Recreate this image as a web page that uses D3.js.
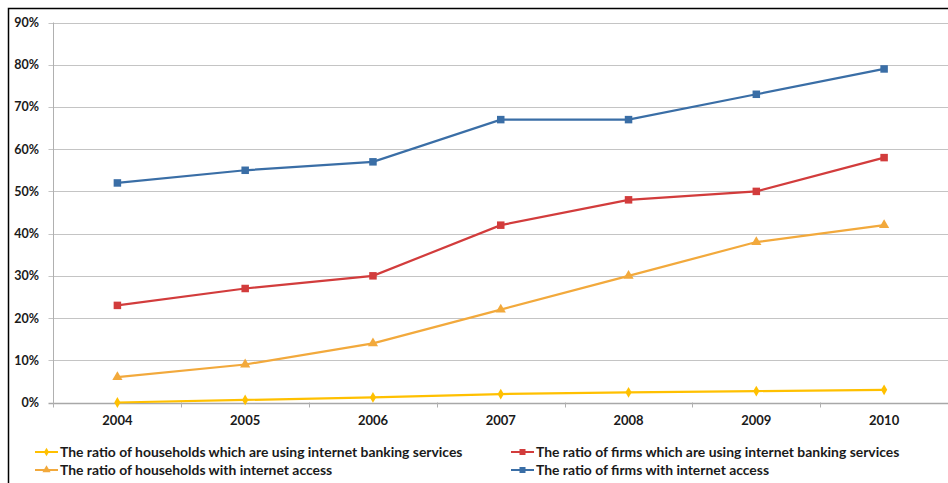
<!DOCTYPE html>
<html><head><meta charset="utf-8">
<script src="https://cdn.jsdelivr.net/npm/d3@7"></script>
<style>body{margin:0;background:#fff}svg{display:block}text{font-family:Lato,"Open Sans",sans-serif;font-weight:bold;fill:#1a1a1a}</style>
</head><body><svg id="c" width="948" height="483"></svg>
<script>
const years = ["2004","2005","2006","2007","2008","2009","2010"];
const hhBanking = [0, 0.6, 1.2, 2.0, 2.4, 2.7, 3.0];
const firmsBanking = [23, 27, 30, 42, 48, 50, 58];
const hhAccess = [6, 9, 14, 22, 30, 38, 42];
const firmsAccess = [52, 55, 57, 67, 67, 73, 79];
const yTicks = [0,10,20,30,40,50,60,70,80,90];
const seriesNames = [
  "The ratio of households which are using internet banking services",
  "The ratio of firms which are using internet banking services",
  "The ratio of households with internet access",
  "The ratio of firms with internet access"
];
const series = [
  {name: seriesNames[0], values: hhBanking, color: "#FFC000", marker: "diamond"},
  {name: seriesNames[1], values: firmsBanking, color: "#D23C3C", marker: "square"},
  {name: seriesNames[2], values: hhAccess, color: "#F2A93C", marker: "triangle"},
  {name: seriesNames[3], values: firmsAccess, color: "#3A6EA6", marker: "square"}
];

const svg = d3.select("#c");
svg.append("rect").attr("x",8.5).attr("y",8.5).attr("width",1000).attr("height",1000)
  .attr("fill","none").attr("stroke","#000").attr("stroke-width",1.5);

const L = 53.5, R = 948, T = 22.5, B = 402.5;
const x = d3.scaleBand().domain(years).range([L, R]);
const y = d3.scaleLinear().domain([0, 90]).range([B, T]);

svg.append("g").selectAll("line").data(yTicks).join("line")
  .attr("x1", L-5).attr("x2", R).attr("y1", d=>Math.round(y(d))+0.5).attr("y2", d=>Math.round(y(d))+0.5)
  .attr("stroke", d=> d===0 ? "#a8a8a8" : "#c4c4c4").attr("stroke-width", d=>d===0?1.5:1.2);
svg.append("line").attr("x1",L).attr("x2",L).attr("y1",T).attr("y2",B+5).attr("stroke","#b0b0b0").attr("stroke-width",1);
svg.append("g").selectAll("text").data(yTicks).join("text")
  .attr("x", 39).attr("y", d=>y(d)+4.5).attr("text-anchor","end").attr("font-size",12.5)
  .text(d=>d+"%");
svg.append("g").selectAll("line").data(years.slice(1)).join("line")
  .attr("x1", d=>Math.round(x(d))+0.5).attr("x2", d=>Math.round(x(d))+0.5).attr("y1",B).attr("y2",B+5)
  .attr("stroke","#b0b0b0");
svg.append("g").selectAll("text").data(years).join("text")
  .attr("x", d=>x(d)+x.bandwidth()/2).attr("y", 425).attr("text-anchor","middle").attr("font-size",13)
  .text(d=>d);

const cx = d=>x(d)+x.bandwidth()/2;
function drawMarker(g, type, color, px, py, s){
  if(type==="square"){
    g.append("rect").attr("x",px-s/2).attr("y",py-s/2).attr("width",s).attr("height",s).attr("fill",color);
  } else if(type==="triangle"){
    g.append("path").attr("d", d3.symbol(d3.symbolTriangle, s*s*0.8)()).attr("transform",`translate(${px},${py})`).attr("fill",color);
  } else {
    g.append("path").attr("d", d3.symbol(d3.symbolDiamond, s*s*0.6)()).attr("transform",`translate(${px},${py})`).attr("fill",color);
  }
}
const line = d3.line().x((d,i)=>cx(years[i])).y(d=>y(d));
series.forEach(s=>{
  const g = svg.append("g");
  g.append("path").datum(s.values).attr("d", line).attr("fill","none").attr("stroke",s.color).attr("stroke-width",2.2);
  s.values.forEach((v,i)=>drawMarker(g, s.marker, s.color, cx(years[i]), y(v), 7.5));
});

const legPos = [[35,452],[511,452],[35,470],[511,470]];
series.forEach((s,i)=>{
  const [lx,ly] = legPos[i];
  const g = svg.append("g");
  g.append("line").attr("x1",lx).attr("x2",lx+23).attr("y1",ly).attr("y2",ly).attr("stroke",s.color).attr("stroke-width",2);
  drawMarker(g, s.marker, s.color, lx+11.5, ly, 6);
  g.append("text").attr("x",lx+25).attr("y",ly+5).attr("font-size",13.9).text(s.name);
});
</script></body></html>
